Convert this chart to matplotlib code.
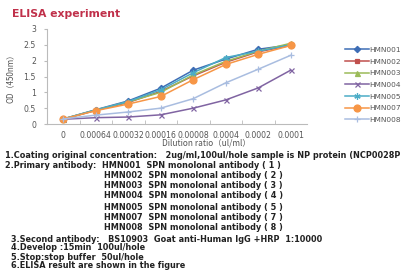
import matplotlib
matplotlib.use("Agg")
import matplotlib.pyplot as plt

# dilution ratio categories (x axis)
dilutions = ["0", "0.00064", "0.00032", "0.00016", "0.00008", "0.0004", "0.0002", "0.0001"]

# OD450 readings per antibody
hmn001 = [0.16, 0.45, 0.73, 1.13, 1.70, 2.05, 2.36, 2.50]
hmn002 = [0.15, 0.43, 0.68, 1.03, 1.52, 1.95, 2.28, 2.48]
hmn003 = [0.16, 0.44, 0.70, 1.00, 1.55, 1.98, 2.30, 2.55]
hmn004 = [0.15, 0.20, 0.22, 0.29, 0.50, 0.76, 1.14, 1.70]
hmn005 = [0.16, 0.44, 0.71, 1.08, 1.62, 2.10, 2.30, 2.50]
hmn007 = [0.16, 0.42, 0.63, 0.87, 1.40, 1.88, 2.20, 2.48]
hmn008 = [0.16, 0.28, 0.38, 0.50, 0.80, 1.30, 1.73, 2.17]

series = [
    ("HMN001", hmn001, "#3d6db5", "D", 3.2),
    ("HMN002", hmn002, "#c0504d", "s", 3.2),
    ("HMN003", hmn003, "#9bbb59", "^", 3.6),
    ("HMN004", hmn004, "#8064a2", "x", 3.6),
    ("HMN005", hmn005, "#4bacc6", (6, 2, 0), 4.5),
    ("HMN007", hmn007, "#f79646", "o", 5.0),
    ("HMN008", hmn008, "#a9bde0", "+", 4.5),
]

notes = [
    (5, 155, "1.Coating original concentration:   2ug/ml,100ul/hole sample is NP protein (NCP0028P"),
    (5, 165, "2.Primary antibody:  HMN001  SPN monolonal antibody ( 1 )"),
    (104, 175, "HMN002  SPN monolonal antibody ( 2 )"),
    (104, 186, "HMN003  SPN monolonal antibody ( 3 )"),
    (104, 196, "HMN004  SPN monolonal antibody ( 4 )"),
    (104, 207, "HMN005  SPN monolonal antibody ( 5 )"),
    (104, 218, "HMN007  SPN monolonal antibody ( 7 )"),
    (104, 228, "HMN008  SPN monolonal antibody ( 8 )"),
    (11, 239, "3.Second antibody:   BS10903  Goat anti-Human IgG +HRP  1:10000"),
    (11, 248, "4.Develop :15min  100ul/hole"),
    (11, 257, "5.Stop:stop buffer  50ul/hole"),
    (11, 266, "6.ELISA result are shown in the figure"),
]

W, H = 401, 275
fig = plt.figure(figsize=(W / 100, H / 100), dpi=100)
ax = fig.add_axes([47 / W, 1 - 124 / H, 260 / W, 95 / H])

x = list(range(len(dilutions)))
for name, vals, col, mk, ms in series:
    ax.plot(x, vals, color=col, marker=mk, markersize=ms, linewidth=1.1,
            markeredgewidth=0.9, label=name)

ax.set_xlim(-0.5, len(dilutions) - 0.5)
ax.set_ylim(0, 3)
ax.set_yticks([0, 0.5, 1, 1.5, 2, 2.5, 3])
ax.set_yticklabels(["0", "0.5", "1", "1.5", "2", "2.5", "3"])
ax.set_xticks(x)
ax.set_xticklabels(dilutions)
ax.set_xticks([i + 0.5 for i in x[:-1]], minor=True)
ax.tick_params(axis="x", which="major", length=0, labelsize=5.6, colors="#555555", pad=5)
ax.tick_params(axis="x", which="minor", length=3, color="#bbbbbb", direction="in")
ax.tick_params(axis="y", length=2, labelsize=5.6, colors="#555555", color="#bbbbbb", pad=6)
for side in ("top", "right"):
    ax.spines[side].set_visible(False)
for side in ("left", "bottom"):
    ax.spines[side].set_color("#bbbbbb")
    ax.spines[side].set_linewidth(0.8)

ax.set_ylabel("OD（450nm）", fontsize=5.8, color="#555555", labelpad=6,
              family=["Noto Sans CJK SC", "DejaVu Sans"])
fig.text(206 / W, 1 - 143 / H, "Dilution ratio（ul/ml）", fontsize=6, color="#555555",
         ha="center", va="center", family=["Noto Sans CJK SC", "DejaVu Sans"])

leg = ax.legend(loc="upper left", bbox_to_anchor=(341 / W, 1 - 43 / H),
                bbox_transform=fig.transFigure, frameon=False, fontsize=5.3,
                handlelength=3.3, handletextpad=0.1, labelspacing=0.75, borderpad=0)
for t in leg.get_texts():
    t.set_color("#555555")

fig.text(12 / W, 1 - 14 / H, "ELISA experiment", fontsize=7.8, fontweight="bold",
         color="#c0304a", va="center", ha="left")

for nx, ny, txt in notes:
    fig.text(nx / W, 1 - ny / H, txt, fontsize=5.9, fontweight="bold",
             color="#222222", va="center", ha="left", family="DejaVu Sans")

fig.savefig("out.png", dpi=100)
